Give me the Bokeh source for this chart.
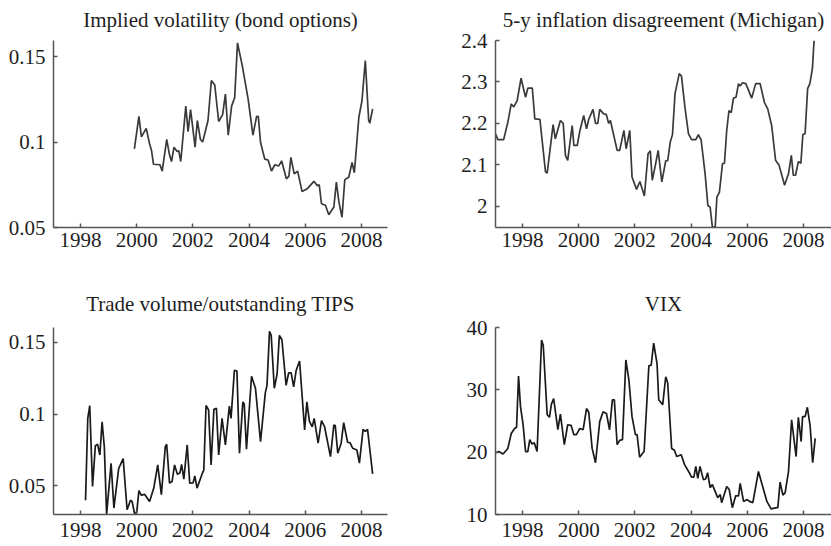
from bokeh.plotting import figure
from bokeh.layouts import column, row
from bokeh.models import Range1d, FixedTicker, CustomJSTickFormatter
from bokeh.embed import file_html
from bokeh.resources import INLINE

# ---------------- data ----------------
YEAR_TICKS = [1998, 2000, 2002, 2004, 2006, 2008]

iv_title = "Implied volatility (bond options)"
iv_year = [1999.92, 2000.08, 2000.17, 2000.34, 2000.46, 2000.53, 2000.6, 2000.83, 2000.91, 2001.07,
           2001.17, 2001.24, 2001.33, 2001.44, 2001.5, 2001.57, 2001.75, 2001.83, 2001.92, 2002.08,
           2002.16, 2002.27, 2002.35, 2002.54, 2002.66, 2002.78, 2002.92, 2003.06, 2003.16, 2003.26,
           2003.38, 2003.49, 2003.59, 2003.76, 2003.97, 2004.14, 2004.27, 2004.33, 2004.41, 2004.56,
           2004.68, 2004.8, 2004.92, 2005.06, 2005.16, 2005.33, 2005.42, 2005.49, 2005.61, 2005.73,
           2005.89, 2006.07, 2006.31, 2006.43, 2006.5, 2006.58, 2006.72, 2006.84, 2007.02, 2007.11,
           2007.2, 2007.31, 2007.41, 2007.55, 2007.67, 2007.75, 2007.91, 2008.02, 2008.14, 2008.26,
           2008.3, 2008.4]
iv_val = [0.096, 0.115, 0.103, 0.108, 0.099, 0.095, 0.087, 0.0867, 0.083, 0.1015,
          0.0925, 0.0886, 0.097, 0.0944, 0.095, 0.0886, 0.121, 0.106, 0.119, 0.097,
          0.1126, 0.1015, 0.100, 0.1126, 0.136, 0.1334, 0.112, 0.116, 0.128, 0.104,
          0.121, 0.126, 0.158, 0.1447, 0.125, 0.104, 0.115, 0.115, 0.0999, 0.090,
          0.0895, 0.083, 0.0867, 0.086, 0.089, 0.0785, 0.080, 0.091, 0.0814, 0.083,
          0.071, 0.0726, 0.077, 0.0745, 0.075, 0.0639, 0.063, 0.0575, 0.062, 0.0765,
          0.065, 0.056, 0.078, 0.0794, 0.088, 0.082, 0.1145, 0.124, 0.1477, 0.1126,
          0.111, 0.1194]
iv_ticks = [0.05, 0.1, 0.15]

mi_title = "5-y inflation disagreement (Michigan)"
mi_year = [1997.04, 1997.12, 1997.33, 1997.48, 1997.6, 1997.69, 1997.81, 1997.95, 1998.11, 1998.19,
           1998.35, 1998.44, 1998.62, 1998.82, 1998.88, 1999.09, 1999.17, 1999.35, 1999.45, 1999.53,
           1999.61, 1999.77, 1999.83, 1999.95, 2000.04, 2000.18, 2000.28, 2000.36, 2000.51, 2000.6,
           2000.68, 2000.75, 2000.89, 2000.98, 2001.07, 2001.13, 2001.37, 2001.46, 2001.61, 2001.69,
           2001.82, 2001.9, 2002.06, 2002.18, 2002.34, 2002.47, 2002.55, 2002.62, 2002.73, 2002.83,
           2002.96, 2003.1, 2003.17, 2003.26, 2003.34, 2003.43, 2003.58, 2003.66, 2003.79, 2003.91,
           2004.02, 2004.17, 2004.26, 2004.36, 2004.5, 2004.6, 2004.68, 2004.76, 2004.86, 2004.92,
           2005.01, 2005.12, 2005.19, 2005.27, 2005.35, 2005.43, 2005.51, 2005.6, 2005.69, 2005.75,
           2005.83, 2005.95, 2006.16, 2006.3, 2006.46, 2006.61, 2006.73, 2006.87, 2007.01, 2007.13,
           2007.33, 2007.47, 2007.57, 2007.64, 2007.72, 2007.82, 2007.91, 2007.98, 2008.06, 2008.15,
           2008.23, 2008.32, 2008.38]
mi_val = [2.175, 2.161, 2.161, 2.203, 2.247, 2.24, 2.255, 2.309, 2.263, 2.285,
          2.285, 2.211, 2.21, 2.083, 2.08, 2.197, 2.163, 2.207, 2.2, 2.123,
          2.111, 2.195, 2.147, 2.147, 2.181, 2.219, 2.187, 2.21, 2.234, 2.2,
          2.2, 2.234, 2.223, 2.222, 2.2, 2.207, 2.135, 2.135, 2.183, 2.139,
          2.183, 2.071, 2.041, 2.06, 2.025, 2.127, 2.134, 2.063, 2.099, 2.135,
          2.059, 2.11, 2.11, 2.155, 2.173, 2.272, 2.32, 2.314, 2.235, 2.175,
          2.161, 2.161, 2.173, 2.16, 2.079, 2.002, 1.998, 1.95, 1.95, 2.022,
          2.034, 2.103, 2.104, 2.183, 2.231, 2.226, 2.261, 2.263, 2.296, 2.29,
          2.298, 2.296, 2.261, 2.296, 2.296, 2.251, 2.235, 2.195, 2.111, 2.1,
          2.051, 2.079, 2.123, 2.075, 2.075, 2.108, 2.104, 2.173, 2.175, 2.284,
          2.296, 2.332, 2.4]
mi_ticks = [2.0, 2.1, 2.2, 2.3, 2.4]

tv_title = "Trade volume/outstanding TIPS"
tv_year = [1998.18, 1998.26, 1998.33, 1998.43, 1998.53, 1998.61, 1998.69, 1998.77, 1998.85, 1998.93,
           1999.09, 1999.19, 1999.36, 1999.52, 1999.66, 1999.78, 1999.84, 1999.92, 2000.0, 2000.08,
           2000.16, 2000.29, 2000.46, 2000.61, 2000.75, 2000.88, 2001.02, 2001.07, 2001.17, 2001.26,
           2001.35, 2001.45, 2001.54, 2001.6, 2001.68, 2001.8, 2001.89, 2002.01, 2002.07, 2002.15,
           2002.33, 2002.39, 2002.47, 2002.56, 2002.65, 2002.75, 2002.84, 2002.92, 2003.04, 2003.16,
           2003.3, 2003.36, 2003.48, 2003.57, 2003.66, 2003.78, 2003.83, 2003.91, 2004.09, 2004.23,
           2004.41, 2004.58, 2004.64, 2004.73, 2004.79, 2004.9, 2005.0, 2005.08, 2005.17, 2005.32,
           2005.41, 2005.5, 2005.59, 2005.68, 2005.8, 2005.98, 2006.06, 2006.15, 2006.25, 2006.32,
           2006.46, 2006.58, 2006.69, 2006.9, 2007.02, 2007.07, 2007.16, 2007.28, 2007.37, 2007.51,
           2007.6, 2007.69, 2007.84, 2007.93, 2008.06, 2008.14, 2008.22, 2008.4]
tv_val = [0.040, 0.097, 0.106, 0.0495, 0.078, 0.079, 0.0715, 0.0947, 0.077, 0.030,
          0.0657, 0.0345, 0.062, 0.069, 0.0333, 0.040, 0.039, 0.031, 0.031, 0.0467,
          0.0435, 0.044, 0.039, 0.0484, 0.0646, 0.0438, 0.0773, 0.079, 0.0519, 0.053,
          0.0646, 0.058, 0.059, 0.065, 0.0547, 0.0785, 0.0519, 0.052, 0.0569, 0.0484,
          0.0583, 0.061, 0.106, 0.103, 0.0646, 0.1033, 0.104, 0.0715, 0.097, 0.0785,
          0.1056, 0.097, 0.1306, 0.130, 0.0727, 0.1085, 0.107, 0.0755, 0.1264, 0.118,
          0.0808, 0.1148, 0.120, 0.1578, 0.155, 0.118, 0.128, 0.1549, 0.152, 0.120,
          0.1287, 0.1287, 0.119, 0.1306, 0.137, 0.0889, 0.1085, 0.095, 0.0912, 0.097,
          0.0797, 0.0954, 0.0912, 0.0704, 0.0924, 0.092, 0.0727, 0.0797, 0.094, 0.0804,
          0.080, 0.0762, 0.075, 0.0658, 0.0894, 0.088, 0.0894, 0.0583]
tv_ticks = [0.05, 0.1, 0.15]

vix_title = "VIX"
vix_year = [1997.04, 1997.16, 1997.31, 1997.48, 1997.6, 1997.72, 1997.79, 1997.86, 1997.93, 1998.02,
            1998.11, 1998.19, 1998.26, 1998.34, 1998.42, 1998.52, 1998.68, 1998.74, 1998.88, 1998.96,
            1999.03, 1999.11, 1999.26, 1999.35, 1999.49, 1999.61, 1999.73, 1999.83, 1999.92, 2000.04,
            2000.16, 2000.28, 2000.36, 2000.48, 2000.6, 2000.75, 2000.87, 2000.99, 2001.1, 2001.2,
            2001.27, 2001.37, 2001.46, 2001.56, 2001.68, 2001.79, 2001.9, 2002.02, 2002.08, 2002.17,
            2002.29, 2002.33, 2002.5, 2002.58, 2002.67, 2002.79, 2002.85, 2002.99, 2003.1, 2003.17,
            2003.31, 2003.41, 2003.49, 2003.65, 2003.77, 2003.94, 2004.02, 2004.1, 2004.17, 2004.24,
            2004.32, 2004.44, 2004.52, 2004.59, 2004.68, 2004.76, 2004.85, 2004.95, 2005.04, 2005.09,
            2005.27, 2005.36, 2005.47, 2005.59, 2005.69, 2005.75, 2005.87, 2006.0, 2006.08, 2006.2,
            2006.4, 2006.58, 2006.7, 2006.85, 2007.05, 2007.09, 2007.17, 2007.27, 2007.35, 2007.47,
            2007.58, 2007.74, 2007.82, 2007.92, 2007.97, 2008.06, 2008.14, 2008.24, 2008.33, 2008.42]
vix_val = [19.9, 20.1, 19.7, 20.6, 23.0, 23.8, 24.0, 32.2, 27.3, 24.5,
           20.1, 20.1, 22.0, 21.3, 21.5, 20.1, 38.0, 37.1, 26.0, 25.6,
           27.7, 28.6, 23.6, 26.1, 21.2, 24.4, 24.3, 22.8, 22.8, 23.8,
           23.6, 27.0, 26.4, 20.6, 18.3, 24.9, 26.5, 26.2, 23.6, 28.4,
           28.4, 21.2, 21.9, 22.0, 34.8, 31.5, 25.7, 22.8, 22.8, 19.2,
           19.9, 20.1, 33.9, 33.9, 37.5, 34.2, 28.4, 27.6, 32.1, 31.1,
           20.6, 20.3, 19.3, 19.6, 18.0, 16.7, 16.0, 16.0, 17.7, 15.8,
           17.7, 15.6, 15.7, 16.7, 14.3, 14.8, 13.8, 12.7, 13.2, 11.9,
           14.5, 14.0, 11.1, 13.0, 13.0, 15.0, 12.1, 12.4, 12.1, 11.9,
           16.9, 14.0, 12.1, 10.9, 11.1, 11.1, 15.2, 13.1, 13.5, 16.9,
           25.2, 19.3, 25.6, 21.7, 25.7, 25.7, 27.2, 24.2, 18.3, 22.2]
vix_ticks = [10, 20, 30, 40]

# ---------------- styling ----------------
FONT = "Liberation Serif"
FS = "21px"
TXT = "#1e1e1e"
AX = "#555555"


def make(title, xs, ys, xr, yr, yticks, w, h, bl, br, bt, bb, color,
         x_standoff, t_standoff):
    p = figure(width=w, height=h, output_backend="svg", toolbar_location=None,
               x_range=Range1d(*xr), y_range=Range1d(*yr),
               min_border_left=bl, min_border_right=br,
               min_border_top=bt, min_border_bottom=bb)
    p.line(xs, ys, line_color=color, line_width=1.7)
    p.title.text = title
    p.title.text_font = FONT
    p.title.text_font_size = FS
    p.title.text_font_style = "normal"
    p.title.text_color = TXT
    p.title.align = "center"
    p.title.vertical_align = "top"
    p.title.standoff = t_standoff
    p.outline_line_color = None
    p.xgrid.visible = False
    p.ygrid.visible = False
    p.xaxis.ticker = FixedTicker(ticks=YEAR_TICKS)
    p.yaxis.ticker = FixedTicker(ticks=yticks)
    p.xaxis.formatter = CustomJSTickFormatter(code="return String(tick);")
    p.yaxis.formatter = CustomJSTickFormatter(code="return String(Math.round(tick*1000)/1000);")
    for ax in (p.xaxis[0], p.yaxis[0]):
        ax.axis_line_color = AX
        ax.axis_line_width = 1.5
        ax.major_tick_line_color = AX
        ax.major_tick_line_width = 1.5
        ax.major_tick_in = 4
        ax.major_tick_out = 0
        ax.minor_tick_line_color = None
        ax.major_label_text_font = FONT
        ax.major_label_text_font_size = FS
        ax.major_label_text_color = TXT
    p.yaxis.major_label_standoff = 8
    p.xaxis.major_label_standoff = x_standoff
    return p


LX = (1997.04, 2008.93)
RX = (1997.04, 2009.0)

p1 = make(iv_title, iv_year, iv_val, LX, (0.05, 0.1594), iv_ticks,
          450, 280, 53, 63, 40, 53, "#3a3a3a", 5, 14)
p2 = make(mi_title, mi_year, mi_val, RX, (1.949, 2.4), mi_ticks,
          381, 280, 45, 0, 40, 53, "#3a3a3a", 5, 14)
p3 = make(tv_title, tv_year, tv_val, LX, (0.03, 0.1604), tv_ticks,
          450, 266, 53, 63, 47, 32, "#1a1a1a", 8, 20)
p4 = make(vix_title, vix_year, vix_val, RX, (10, 40), vix_ticks,
          381, 266, 45, 0, 47, 32, "#1a1a1a", 8, 20)

layout = column(row(p1, p2), row(p3, p4))

open("out.html", "w").write(file_html(layout, INLINE))
